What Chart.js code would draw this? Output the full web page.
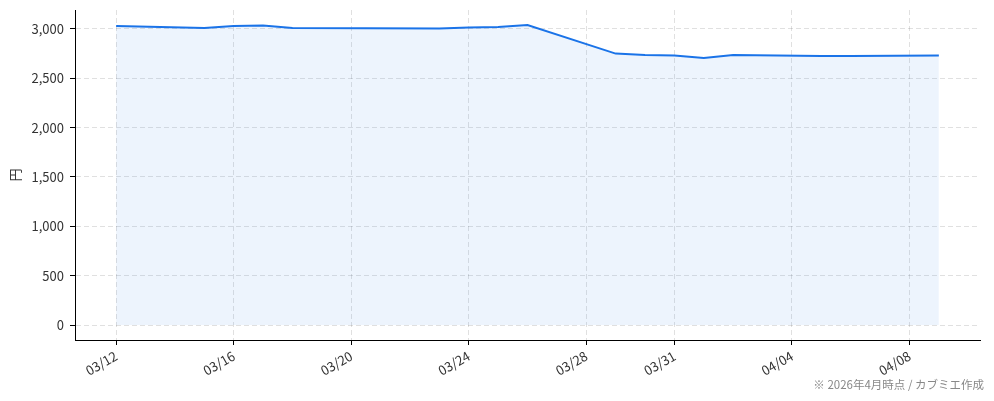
<!DOCTYPE html>
<html lang="ja">
<head>
    <meta charset="UTF-8">
    <title>株価推移</title>
    <style>
        html, body { margin: 0; padding: 0; background: #ffffff; }
        #wrap { position: relative; width: 994px; height: 401px; }
        #note {
            position: absolute;
            right: 10px;
            top: 376px;
            font-family: "Noto Sans CJK JP", sans-serif;
            font-size: 11.5px;
            color: #888888;
            white-space: nowrap;
        }
    </style>
</head>
<body>
    <div id="wrap">
        <canvas id="chart" width="994" height="401"></canvas>
        <div id="note">※ 2026年4月時点 / カブミエ作成</div>
    </div>
    <script src="https://cdn.jsdelivr.net/npm/chart.js@4.4.1/dist/chart.umd.min.js"></script>
    <script>
        // data
        var dates = ['2026-03-12', '2026-03-15', '2026-03-16', '2026-03-17', '2026-03-18',
                     '2026-03-23', '2026-03-24', '2026-03-25', '2026-03-26', '2026-03-29',
                     '2026-03-30', '2026-03-31', '2026-04-01', '2026-04-02', '2026-04-05',
                     '2026-04-06', '2026-04-09'];
        var prices = [3030, 3010, 3030, 3035, 3010,
                      3005, 3015, 3020, 3040, 2750,
                      2735, 2730, 2705, 2735, 2725,
                      2725, 2730];
        var xTickDates = ['2026-03-12', '2026-03-16', '2026-03-20', '2026-03-24',
                          '2026-03-28', '2026-03-31', '2026-04-04', '2026-04-08'];
        var yTicks = [0, 500, 1000, 1500, 2000, 2500, 3000];

        var DAY = 86400000;
        function dayOf(s) {
            var p = s.split('-');
            return (Date.UTC(+p[0], +p[1] - 1, +p[2]) - Date.UTC(2026, 2, 12)) / DAY;
        }
        function label(s) {
            var p = s.split('-');
            return p[1] + '/' + p[2];
        }

        var points = dates.map(function (d, i) { return { x: dayOf(d), y: prices[i] }; });
        var xTickVals = xTickDates.map(dayOf);
        var xTickText = {};
        xTickDates.forEach(function (d) { xTickText[dayOf(d)] = label(d); });

        var first = points[0].x, last = points[points.length - 1].x;
        var xPad = (last - first) * 0.05;
        var yMaxData = Math.max.apply(null, prices);
        var yPad = yMaxData * 0.05;

        var font = { family: '"Noto Sans CJK JP", sans-serif', size: 13 };
        var gridColor = 'rgba(0,0,0,0.12)';

        new Chart(document.getElementById('chart').getContext('2d'), {
            type: 'line',
            data: {
                datasets: [{
                    data: points,
                    borderColor: '#1a73e8',
                    borderWidth: 2,
                    backgroundColor: 'rgba(26,115,232,0.08)',
                    fill: 'origin',
                    pointRadius: 0,
                    tension: 0
                }]
            },
            options: {
                responsive: false,
                animation: false,
                layout: { padding: { left: 0, right: 14, top: 10, bottom: 0 } },
                plugins: {
                    legend: { display: false },
                    tooltip: { enabled: false }
                },
                scales: {
                    x: {
                        type: 'linear',
                        min: first - xPad,
                        max: last + xPad,
                        afterBuildTicks: function (scale) {
                            scale.ticks = xTickVals.map(function (v) { return { value: v }; });
                        },
                        afterFit: function (scale) {
                            scale.height = 61;
                            scale.paddingLeft = 0;
                            scale.paddingRight = 0;
                        },
                        ticks: {
                            autoSkip: false,
                            minRotation: 30,
                            maxRotation: 30,
                            padding: 3,
                            color: '#333333',
                            font: font,
                            callback: function (v) { return xTickText[v] || ''; }
                        },
                        grid: {
                            color: gridColor,
                            tickColor: '#000000',
                            tickLength: 5,
                            tickWidth: 1
                        },
                        border: { color: '#000000', width: 1, dash: [5, 3] }
                    },
                    y: {
                        type: 'linear',
                        min: -yPad,
                        max: yMaxData + yPad,
                        afterBuildTicks: function (scale) {
                            scale.ticks = yTicks.map(function (v) { return { value: v }; });
                        },
                        afterFit: function (scale) {
                            scale.width = 75;
                            scale.paddingTop = 0;
                            scale.paddingBottom = 0;
                        },
                        ticks: {
                            padding: 6,
                            color: '#333333',
                            font: font,
                            callback: function (v) { return v.toLocaleString('en-US'); }
                        },
                        grid: {
                            color: gridColor,
                            tickColor: '#000000',
                            tickLength: 5,
                            tickWidth: 1
                        },
                        border: { color: '#000000', width: 1, dash: [5, 3] },
                        title: {
                            display: true,
                            text: '円',
                            color: '#333333',
                            font: font,
                            padding: { top: 7, bottom: 0 }
                        }
                    }
                }
            }
        });
    </script>
</body>
</html>
